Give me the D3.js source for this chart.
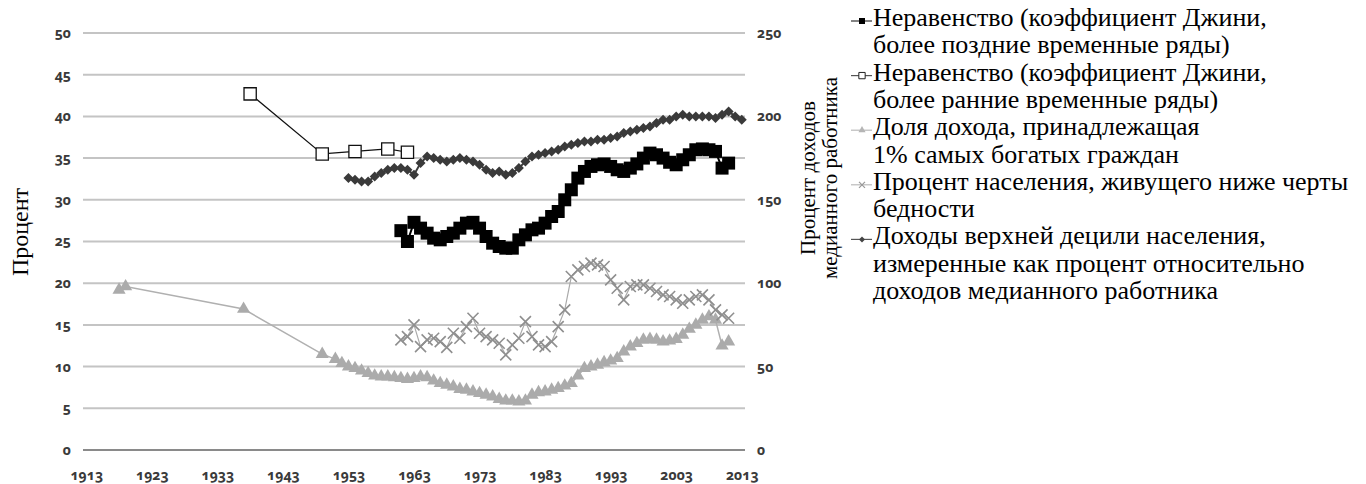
<!DOCTYPE html>
<html><head><meta charset="utf-8">
<script src="https://cdn.jsdelivr.net/npm/d3@7"></script>
<style>
body{margin:0;background:#fff}
svg{display:block}
</style>
</head><body>
<svg id="c" width="1366" height="484"></svg>
<script>
// ---------- data ----------
const xTicks = [1913,1923,1933,1943,1953,1963,1973,1983,1993,2003,2013];
const leftTicks = [0,5,10,15,20,25,30,35,40,45,50];
const rightTicks = [0,50,100,150,200,250];

const giniEarlyYears = [1938,1949,1954,1959,1962];
const giniEarly = [42.7,35.5,35.8,36.1,35.7];

const giniLateYears = d3.range(1961, 2012);
const giniLate = [26.3,25.0,27.3,26.6,26.0,25.4,25.2,25.6,26.0,26.6,
  27.2,27.3,26.6,25.6,24.8,24.4,24.2,24.2,25.2,25.8,
  26.4,26.6,27.2,28.0,28.6,30.0,31.2,32.6,33.4,34.0,
  34.2,34.3,34.0,33.6,33.4,33.8,34.3,35.0,35.6,35.4,
  35.0,34.5,34.2,34.8,35.4,36.0,36.1,36.0,35.8,33.8,34.4];

const top1Years = [1918,1919,1937,1949].concat(d3.range(1951, 2012));
const top1 = [19.2,19.6,16.9,11.5,
  10.9,10.4,10.0,9.8,9.5,9.2,8.9,8.8,8.8,8.7,
  8.6,8.5,8.6,8.8,8.7,8.3,8.0,7.8,7.6,7.3,
  7.2,7.0,6.8,6.6,6.4,6.1,5.9,5.9,5.8,5.9,
  6.6,6.9,7.0,7.2,7.4,7.7,8.0,8.9,9.8,10.0,
  10.2,10.5,10.7,11.0,11.8,12.4,12.8,13.2,13.3,13.2,
  13.0,13.1,13.3,13.8,14.5,15.0,15.6,16.0,15.6,12.5,13.0];

const povertyYears = d3.range(1961, 2012);
const poverty = [13.2,13.6,15.0,12.4,13.2,13.4,13.0,12.3,14.0,13.4,
  14.8,15.8,14.0,13.6,13.2,12.8,11.4,12.6,13.4,15.4,
  13.6,12.6,12.4,13.0,14.8,16.8,20.8,21.6,22.0,22.4,
  22.2,22.0,20.4,19.4,18.0,19.6,19.8,19.8,19.4,19.0,
  18.6,18.4,18.0,17.6,18.0,18.4,18.6,18.0,16.8,16.2,15.8];

const decileYears = d3.range(1953, 2014);
const decile = [163,162,161,161,164,166,168,169,169,168,
  165,172,176,175,174,173,174,175,174,173,
  171,168,166,167,165,166,169,173,176,177,
  178,179,180,182,183,184,185,185,186,186,
  187,188,190,191,192,193,194,196,198,198,
  200,201,200,200,200,200,199,201,203,200,198];

const legendItems = [
  ["Неравенство (коэффициент Джини,","более поздние временные ряды)"],
  ["Неравенство (коэффициент Джини,","более ранние временные ряды)"],
  ["Доля дохода, принадлежащая","1% самых богатых граждан"],
  ["Процент населения, живущего ниже черты","бедности"],
  ["Доходы верхней децили населения,","измеренные как процент относительно","доходов медианного работника"]
];

// ---------- layout ----------
const SERIF = "'Liberation Serif','Times New Roman','DejaVu Serif',serif";
const TICKF = "'Noto Sans','Open Sans',sans-serif";
const svg = d3.select("#c");
const X0 = 83, X1 = 745, Y0 = 450, Y1 = 33;
const x = d3.scaleLinear().domain([1912.5, 2013.5]).range([X0, X1]);
const yL = d3.scaleLinear().domain([0, 50]).range([Y0, Y1]);
const yR = d3.scaleLinear().domain([0, 250]).range([Y0, Y1]);

// gridlines
svg.append("g").selectAll("line").data(leftTicks).join("line")
  .attr("x1", X0).attr("x2", X1)
  .attr("y1", d => yL(d)).attr("y2", d => yL(d))
  .attr("stroke", d => d === 0 ? "#8a8a8a" : "#c4c4c4")
  .attr("stroke-width", 2);

function styleTicks(g){
  g.select(".domain").remove();
  g.attr("font-family", null).attr("font-size", null);
  g.selectAll("text")
    .style("font-family", TICKF)
    .style("font-size", "14px")
    .style("font-weight", "700")
    .style("font-feature-settings", "'onum' 1")
    .style("fill", "#3a3a3a");
}

const gl = svg.append("g").attr("transform", `translate(${X0},0)`)
  .call(d3.axisLeft(yL).tickValues(leftTicks).tickSize(0).tickPadding(12));
styleTicks(gl);
const gr = svg.append("g").attr("transform", `translate(${X1},0)`)
  .call(d3.axisRight(yR).tickValues(rightTicks).tickSize(0).tickPadding(12));
styleTicks(gr);
const gb = svg.append("g").attr("transform", `translate(0,${Y0})`)
  .call(d3.axisBottom(x).tickValues(xTicks).tickFormat(d3.format("d")).tickSize(0).tickPadding(20));
styleTicks(gb);

// axis titles
svg.append("text").style("font-family", SERIF).style("font-size", "24px")
  .attr("transform", `translate(28,232) rotate(-90)`).attr("text-anchor", "middle")
  .text("Процент");
const rt = svg.append("text").style("font-family", SERIF).style("font-size", "21px")
  .attr("transform", `translate(815,178) rotate(-90)`).attr("text-anchor", "middle");
rt.append("tspan").attr("x", 0).attr("dy", 0).text("Процент доходов");
rt.append("tspan").attr("x", 0).attr("dy", 22).text("медианного работника");

// ---------- marks ----------
const xPath = s => { const h = s/2; return `M${-h},${-h}L${h},${h}M${-h},${h}L${h},${-h}`; };
function pts(years, vals){ return years.map((yr,i) => [yr, vals[i]]); }

// top 1% (triangles)
const top1Data = pts(top1Years, top1);
svg.append("path").datum(top1Data)
  .attr("d", d3.line().x(d => x(d[0])).y(d => yL(d[1])))
  .attr("fill", "none").attr("stroke", "#b0b0b0").attr("stroke-width", 1.5);
svg.append("g").selectAll("path").data(top1Data).join("path")
  .attr("transform", d => `translate(${x(d[0])},${yL(d[1])})`)
  .attr("d", d3.symbol(d3.symbolTriangle, 75))
  .attr("fill", "#ababab");

// poverty (x marks)
const povData = pts(povertyYears, poverty);
svg.append("path").datum(povData)
  .attr("d", d3.line().x(d => x(d[0])).y(d => yL(d[1])))
  .attr("fill", "none").attr("stroke", "#aaa").attr("stroke-width", 1.2);
svg.append("g").selectAll("path").data(povData).join("path")
  .attr("transform", d => `translate(${x(d[0])},${yL(d[1])})`)
  .attr("d", xPath(11))
  .attr("fill", "none").attr("stroke", "#8f8f8f").attr("stroke-width", 1.6);

// top decile (diamonds, right axis)
const decData = pts(decileYears, decile);
svg.append("path").datum(decData)
  .attr("d", d3.line().x(d => x(d[0])).y(d => yR(d[1])))
  .attr("fill", "none").attr("stroke", "#3c3c3c").attr("stroke-width", 2);
svg.append("g").selectAll("path").data(decData).join("path")
  .attr("transform", d => `translate(${x(d[0])},${yR(d[1])}) rotate(45)`)
  .attr("d", d3.symbol(d3.symbolSquare, 50))
  .attr("fill", "#3a3a3a");

// late gini (filled squares)
const glData = pts(giniLateYears, giniLate);
svg.append("path").datum(glData)
  .attr("d", d3.line().x(d => x(d[0])).y(d => yL(d[1])))
  .attr("fill", "none").attr("stroke", "#000").attr("stroke-width", 2);
svg.append("g").selectAll("path").data(glData).join("path")
  .attr("transform", d => `translate(${x(d[0])},${yL(d[1])})`)
  .attr("d", d3.symbol(d3.symbolSquare, 169))
  .attr("fill", "#000");

// early gini (open squares)
const geData = pts(giniEarlyYears, giniEarly);
svg.append("path").datum(geData)
  .attr("d", d3.line().x(d => x(d[0])).y(d => yL(d[1])))
  .attr("fill", "none").attr("stroke", "#111").attr("stroke-width", 1.2);
svg.append("g").selectAll("path").data(geData).join("path")
  .attr("transform", d => `translate(${x(d[0])},${yL(d[1])})`)
  .attr("d", d3.symbol(d3.symbolSquare, 150))
  .attr("fill", "#fff").attr("stroke", "#111").attr("stroke-width", 1.3);

// ---------- legend ----------
const LX = 873, lineH = 27.3;
let lineIdx = 0;
const lg = svg.append("g");
const markers = [
  g => g.append("path").attr("d", d3.symbol(d3.symbolSquare, 36)).attr("fill", "#000"),
  g => g.append("path").attr("d", d3.symbol(d3.symbolSquare, 40)).attr("fill", "#fff").attr("stroke", "#222").attr("stroke-width", 1),
  g => g.append("path").attr("d", d3.symbol(d3.symbolTriangle, 22)).attr("fill", "#b5b5b5"),
  g => g.append("path").attr("d", xPath(6)).attr("fill", "none").attr("stroke", "#999").attr("stroke-width", 1.2),
  g => g.append("path").attr("d", d3.symbol(d3.symbolSquare, 18)).attr("transform", "rotate(45)").attr("fill", "#444")
];
const lineCols = ["#333", "#555", "#bbb", "#bbb", "#555"];
legendItems.forEach((lines, i) => {
  const base = 26 + lineIdx * lineH;
  const t = lg.append("text").style("font-family", SERIF).style("font-size", "26px").style("fill", "#000");
  lines.forEach((s, j) => {
    t.append("tspan").attr("x", LX).attr("y", base + j * lineH).text(s);
  });
  const my = base - 5;
  lg.append("line").attr("x1", 851).attr("x2", 872).attr("y1", my).attr("y2", my)
    .attr("stroke", lineCols[i]).attr("stroke-width", 1.2);
  const mg = lg.append("g").attr("transform", `translate(862,${my})`);
  markers[i](mg);
  lineIdx += lines.length;
});
</script>
</body></html>
